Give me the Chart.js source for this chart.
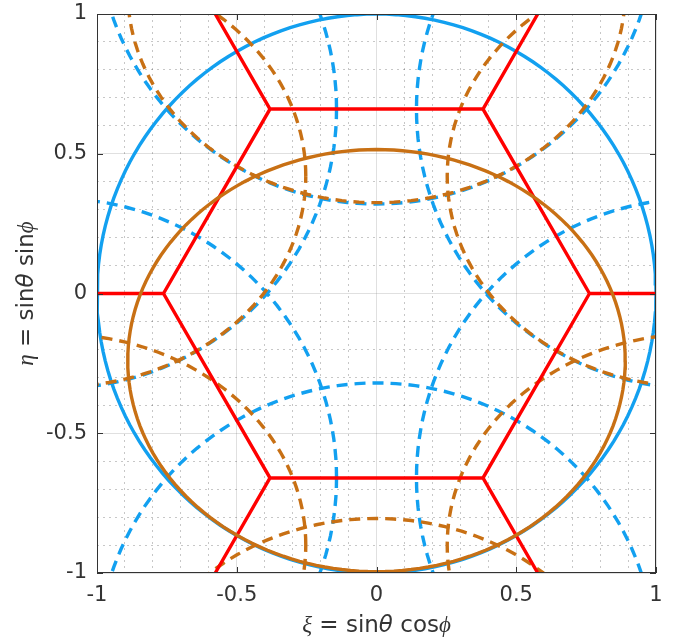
<!DOCTYPE html>
<html>
<head>
<meta charset="utf-8">
<script src="https://cdn.jsdelivr.net/npm/chart.js@4.4.1/dist/chart.umd.min.js"></script>
<style>
  body { margin: 0; background: #fff; }
  canvas { display: block; }
</style>
</head>
<body>
<canvas id="lobes" width="674" height="641"></canvas>
<script>
// grating lobe centres in (xi, eta) space
const latticeX = [0, 1.143, 1.143, 0, -1.143, -1.143];
const latticeY = [1.32, 0.66, -0.66, -1.32, -0.66, 0.66];
const circleRadius = 1;

// scanned region (brown ellipse)
const ellipseCenter = [0, -0.24];
const ellipseAxes = [0.89, 0.755];

// hexagonal cell and the spokes to the plot edge
const hexX = [0.762, 0.381, -0.381, -0.762, -0.381, 0.381];
const hexY = [0, 0.66, 0.66, 0, -0.66, -0.66];
const spokeX = [1, 0.577, -0.577, -1, -0.577, 0.577];
const spokeY = [0, 1, 1, 0, -1, -1];

const tickValues = [-1, -0.5, 0, 0.5, 1];
const tickLabels = ["-1", "-0.5", "0", "0.5", "1"];

const BLUE = "rgb(18,160,240)";
const BROWN = "rgb(200,112,20)";
const RED = "rgb(255,0,0)";
const TEXT = "#333";

function ellipsePoints(cx, cy, rx, ry) {
  const pts = [];
  for (let k = 0; k <= 360; k += 2) {
    const a = k * Math.PI / 180;
    pts.push({ x: cx + rx * Math.cos(a), y: cy + ry * Math.sin(a) });
  }
  return pts;
}

function curve(data, color, dash, order) {
  return {
    data: data,
    showLine: true,
    borderColor: color,
    borderWidth: 3.4,
    borderDash: dash,
    pointRadius: 0,
    tension: 0,
    clip: 0,
    order: order
  };
}

const datasets = [];
datasets.push(curve(ellipsePoints(ellipseCenter[0], ellipseCenter[1], ellipseAxes[0], ellipseAxes[1]), BROWN, [], 0));

let redData = [];
hexX.forEach((x, i) => redData.push({ x: x, y: hexY[i] }));
redData.push({ x: hexX[0], y: hexY[0] });
hexX.forEach((x, i) => {
  redData.push({ x: x, y: null });
  redData.push({ x: x, y: hexY[i] });
  redData.push({ x: spokeX[i], y: spokeY[i] });
});
datasets.push(curve(redData, RED, [], 1));

latticeX.forEach((lx, i) => {
  datasets.push(curve(ellipsePoints(lx, latticeY[i] + ellipseCenter[1], ellipseAxes[0], ellipseAxes[1]), BROWN, [11, 7], 2));
});
datasets.push(curve(ellipsePoints(0, 0, circleRadius, circleRadius), BLUE, [], 3));
latticeX.forEach((lx, i) => {
  datasets.push(curve(ellipsePoints(lx, latticeY[i], circleRadius, circleRadius), BLUE, [11, 7], 4));
});

function isMajor(v) {
  return Math.abs(v * 2 - Math.round(v * 2)) < 1e-6;
}

function labelFor(value) {
  const i = tickValues.findIndex(t => Math.abs(t - value) < 1e-6);
  return i >= 0 ? tickLabels[i] : "";
}

function axisOptions(isX) {
  return {
    type: "linear",
    min: -1,
    max: 1,
    position: isX ? "bottom" : "left",
    afterFit: (s) => {
      if (isX) { s.height = 68; s.paddingLeft = 0; s.paddingRight = 0; }
      else { s.width = 97; s.paddingTop = 0; s.paddingBottom = 0; }
    },
    ticks: {
      stepSize: 0.1,
      maxTicksLimit: 30,
      autoSkip: false,
      maxRotation: 0,
      padding: 10,
      color: TEXT,
      font: { family: "DejaVu Sans", size: 21 },
      callback: labelFor
    },
    grid: {
      drawTicks: false,
      lineWidth: 1,
      color: (c) => isMajor(c.tick.value) ? "rgba(0,0,0,0.12)" : "rgba(0,0,0,0.22)"
    },
    border: {
      display: false,
      dash: (c) => isMajor(c.tick.value) ? [] : [2, 4]
    }
  };
}

const richFonts = {
  greek: 'italic 23px "Liberation Serif"',
  greekSans: 'italic 23px "DejaVu Sans"',
  plain: '23px "DejaVu Sans"'
};
const xTitle = [["ξ", "greek"], [" = sin", "plain"], ["θ", "greekSans"], [" cos", "plain"], ["ϕ", "greek"]];
const yTitle = [["η", "greek"], [" = sin", "plain"], ["θ", "greekSans"], [" sin", "plain"], ["ϕ", "greek"]];

function drawRich(ctx, parts, x, y, angle) {
  ctx.save();
  ctx.translate(x, y);
  ctx.rotate(angle);
  let total = 0;
  parts.forEach(p => { ctx.font = richFonts[p[1]]; total += ctx.measureText(p[0]).width; });
  let cx = -total / 2;
  ctx.textAlign = "left";
  ctx.textBaseline = "alphabetic";
  ctx.fillStyle = TEXT;
  parts.forEach(p => {
    ctx.font = richFonts[p[1]];
    ctx.fillText(p[0], cx, 0);
    cx += ctx.measureText(p[0]).width;
  });
  ctx.restore();
}

const boxPlugin = {
  id: "box",
  afterDatasetsDraw(chart) {
    const ctx = chart.ctx;
    const a = chart.chartArea;
    const xs = chart.scales.x, ys = chart.scales.y;
    ctx.save();
    ctx.strokeStyle = "#333";
    ctx.lineWidth = 1;
    ctx.strokeRect(a.left + 0.5, a.top + 0.5, a.right - a.left - 1, a.bottom - a.top - 1);
    ctx.beginPath();
    tickValues.forEach(v => {
      const px = Math.round(xs.getPixelForValue(v)) + 0.5;
      const py = Math.round(ys.getPixelForValue(v)) + 0.5;
      ctx.moveTo(px, a.bottom); ctx.lineTo(px, a.bottom - 6);
      ctx.moveTo(px, a.top); ctx.lineTo(px, a.top + 6);
      ctx.moveTo(a.left, py); ctx.lineTo(a.left + 6, py);
      ctx.moveTo(a.right, py); ctx.lineTo(a.right - 6, py);
    });
    ctx.stroke();
    ctx.restore();
  },
  afterDraw(chart) {
    const a = chart.chartArea;
    drawRich(chart.ctx, xTitle, (a.left + a.right) / 2, 632, 0);
    drawRich(chart.ctx, yTitle, 33, (a.top + a.bottom) / 2, -Math.PI / 2);
  }
};

new Chart(document.getElementById("lobes"), {
  type: "scatter",
  data: { datasets: datasets },
  options: {
    responsive: false,
    animation: false,
    events: [],
    layout: { padding: { top: 14, right: 18, left: 0, bottom: 0 } },
    plugins: { legend: { display: false }, tooltip: { enabled: false } },
    scales: { x: axisOptions(true), y: axisOptions(false) }
  },
  plugins: [boxPlugin]
});
</script>
</body>
</html>
